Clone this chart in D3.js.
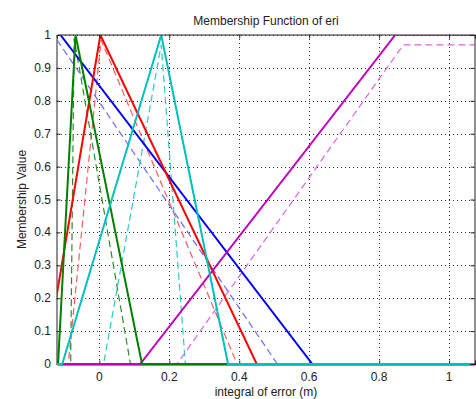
<!DOCTYPE html>
<html><head><meta charset="utf-8">
<script src="https://cdn.jsdelivr.net/npm/d3@7"></script>
<style>html,body{margin:0;padding:0;background:#fff;}svg{display:block;font-family:"Liberation Sans",Arial,sans-serif;}</style>
</head><body>
<svg id="chart" width="476" height="399"></svg>
<script>
// ---- data ----
const xDomain = [-0.121, 1.074];
const yDomain = [0, 1];
const xTicks = [0, 0.2, 0.4, 0.6, 0.8, 1];
const yTicks = [0, 0.1, 0.2, 0.3, 0.4, 0.5, 0.6, 0.7, 0.8, 0.9, 1];
const xTickLabels = ["0", "0.2", "0.4", "0.6", "0.8", "1"];
const yTickLabels = ["0", "0.1", "0.2", "0.3", "0.4", "0.5", "0.6", "0.7", "0.8", "0.9", "1"];

// upper membership functions (solid)
const upperBlue    = [[-0.2, 1], [-0.111, 1], [0.609, 0], [1.2, 0]];
const upperRed     = [[-0.2, 0], [-0.155, 0], [0.003, 1], [0.45, 0], [1.2, 0]];
const upperMagenta = [[-0.2, 0], [0.117, 0], [0.846, 1], [1.2, 1]];
const upperGreen   = [[-0.2, 0], [-0.118, 0], [-0.068, 1], [0.122, 0], [1.2, 0]];
const upperCyan    = [[-0.2, 0], [-0.106, 0], [0.177, 1], [0.368, 0], [1.2, 0]];

// lower membership functions (dashed)
const lowerBlue    = [[-0.121, 0.985], [0.509, 0], [1.2, 0]];
const lowerRed     = [[-0.2, 0], [-0.089, 0], [0.005, 0.985], [0.394, 0], [1.2, 0]];
const lowerCyan    = [[-0.2, 0], [0.012, 0], [0.177, 0.97], [0.246, 0], [1.2, 0]];
const lowerGreen   = [[-0.2, 0], [-0.082, 0], [-0.072, 0.99], [0.089, 0], [1.2, 0]];
const lowerMagenta = [[-0.2, 0], [0.222, 0], [0.869, 0.97], [1.2, 0.97]];

const titleText = "Membership Function of eri";
const xLabelText = "integral of error (m)";
const yLabelText = "Membership Value";

// ---- layout ----
const L = 57, R = 475, T = 35, B = 364;
const svg = d3.select("#chart");
const x = d3.scaleLinear().domain(xDomain).range([L, R]);
const y = d3.scaleLinear().domain(yDomain).range([B, T]);

svg.append("defs").append("clipPath").attr("id", "clip")
  .append("rect").attr("x", L).attr("y", T + 0.5).attr("width", R - L - 0.5).attr("height", B - T + 1.5);

// grid
const grid = svg.append("g");
grid.selectAll("line.gx").data(xTicks).enter().append("line")
  .attr("x1", d => Math.round(x(d)) + 0.5).attr("x2", d => Math.round(x(d)) + 0.5)
  .attr("y1", T).attr("y2", B)
  .attr("stroke", "#333").attr("stroke-width", 1).attr("stroke-dasharray", "1,3");
grid.selectAll("line.gy").data(yTicks).enter().append("line")
  .attr("y1", d => Math.round(y(d)) + 0.5).attr("y2", d => Math.round(y(d)) + 0.5)
  .attr("x1", L).attr("x2", R)
  .attr("stroke", "#333").attr("stroke-width", 1).attr("stroke-dasharray", "1,3");

// axes frame and ticks (bottom/left beneath the lines)
function frame(ax, tr) {
  const g = svg.append("g").attr("transform", tr).call(ax);
  g.selectAll("path").attr("stroke", "#222").attr("stroke-width", 1);
  g.selectAll("line").attr("stroke", "#222");
}
frame(d3.axisBottom(x).tickValues(xTicks).tickSize(-4).tickFormat(""), `translate(0,${B + 0.5})`);
frame(d3.axisLeft(y).tickValues(yTicks).tickSize(-4).tickFormat(""), `translate(${L - 0.5},0)`);

// tick labels
svg.append("g").selectAll("text").data(xTicks).enter().append("text")
  .attr("x", d => x(d)).attr("y", 381).attr("text-anchor", "middle")
  .attr("font-size", 12).attr("fill", "#222").text((d, i) => xTickLabels[i]);
svg.append("g").selectAll("text").data(yTicks).enter().append("text")
  .attr("x", 51).attr("y", d => y(d) + 4).attr("text-anchor", "end")
  .attr("font-size", 12).attr("fill", "#222").text((d, i) => yTickLabels[i]);

// lines
const line = d3.line().x(d => x(d[0])).y(d => y(d[1]));
const plot = svg.append("g").attr("clip-path", "url(#clip)");
const dashed = [
  [lowerBlue, "#6a6aff"], [lowerRed, "#ff5a5a"], [lowerCyan, "#30c8c8"],
  [lowerGreen, "#2e8b2e"], [lowerMagenta, "#dd66dd"]
];
dashed.forEach(([d, c]) => {
  plot.append("path").datum(d).attr("d", line).attr("fill", "none")
    .attr("stroke", c).attr("stroke-width", 1.2).attr("stroke-dasharray", "7,4");
});
const solid = [
  [upperBlue, "#0000ff"], [upperRed, "#ff0000"], [upperMagenta, "#bf00bf"],
  [upperGreen, "#008000"], [upperCyan, "#00bfbf"]
];
solid.forEach(([d, c]) => {
  plot.append("path").datum(d).attr("d", line).attr("fill", "none")
    .attr("stroke", c).attr("stroke-width", 2);
});

// top/right frame over the lines
frame(d3.axisTop(x).tickValues(xTicks).tickSize(-4).tickFormat(""), `translate(0,${T - 0.5})`);
frame(d3.axisRight(y).tickValues(yTicks).tickSize(-4).tickFormat(""), `translate(${R - 0.5},0)`);

// titles
svg.append("text").attr("x", (L + R) / 2).attr("y", 25).attr("text-anchor", "middle")
  .attr("font-size", 12).attr("fill", "#222").text(titleText);
svg.append("text").attr("x", (L + R) / 2).attr("y", 396).attr("text-anchor", "middle")
  .attr("font-size", 12).attr("fill", "#222").text(xLabelText);
svg.append("text").attr("transform", `translate(26,${(T + B) / 2}) rotate(-90)`)
  .attr("text-anchor", "middle").attr("font-size", 12).attr("fill", "#222").text(yLabelText);
</script>
</body></html>
